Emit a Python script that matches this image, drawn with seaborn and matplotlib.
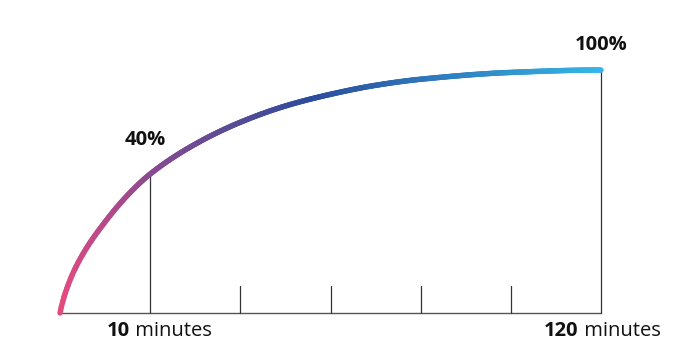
import numpy as np
import pandas as pd
import matplotlib
matplotlib.use("Agg")
import matplotlib.pyplot as plt
from matplotlib.collections import LineCollection
from matplotlib.colors import LinearSegmentedColormap
import seaborn as sns

# ---- data (x = tick position index, y = share of full height) ----
curve_x = [0.0, 0.1, 0.25, 0.5, 0.75, 1.0, 1.5, 2.0, 2.5, 3.0, 3.5, 4.0, 5.0, 6.0]
curve_y = [0.0, 0.125, 0.24, 0.375, 0.485, 0.572, 0.695, 0.785, 0.852, 0.9, 0.937, 0.962, 0.99, 1.0]
tick_positions = [1, 2, 3, 4, 5, 6]
marker_positions = [1, 6]
marker_values = [0.572, 1.0]
marker_labels = ["40%", "100%"]
axis_label_positions = [1, 6]
axis_label_numbers = ["10", "120"]
axis_label_unit = "minutes"

sns.set_theme(style="white")
plt.rcParams["font.family"] = ["Open Sans", "DejaVu Sans"]

fig = plt.figure(figsize=(6.9, 3.6), dpi=100)
ax = fig.add_axes([0, 0, 1, 1])
px_per_x = 90.17
px_per_y = 243.0
ax.set_xlim(-60 / px_per_x, (690 - 60) / px_per_x)
ax.set_ylim((313 - 360) / px_per_y, 313 / px_per_y)
ax.axis("off")

# smooth rendering of the read points with a monotone cubic (PCHIP)
df = pd.DataFrame({"x": curve_x, "y": curve_y})
x = df.x.to_numpy(); y = df.y.to_numpy()
xs = np.linspace(x.min(), x.max(), 400)
h = np.diff(x); d = np.diff(y) / h
m = np.zeros_like(y)
for k in range(1, len(x) - 1):
    if d[k - 1] * d[k] > 0:
        w1 = 2 * h[k] + h[k - 1]; w2 = h[k] + 2 * h[k - 1]
        m[k] = (w1 + w2) / (w1 / d[k - 1] + w2 / d[k])
m[0] = d[0] * 1.4
m[-1] = 0.0
idx = np.clip(np.searchsorted(x, xs) - 1, 0, len(x) - 2)
t = (xs - x[idx]) / h[idx]
h00 = 2 * t**3 - 3 * t**2 + 1; h10 = t**3 - 2 * t**2 + t
h01 = -2 * t**3 + 3 * t**2; h11 = t**3 - t**2
ys = h00 * y[idx] + h10 * h[idx] * m[idx] + h01 * y[idx + 1] + h11 * h[idx] * m[idx + 1]

cmap = LinearSegmentedColormap.from_list(
    "grad",
    [(0.0, "#e44a80"), (1 / 6, "#8a4a90"), (2.8 / 6, "#2b4c9c"), (1.0, "#33b6e7")],
)
pts = np.column_stack([xs, ys]).reshape(-1, 1, 2)
segs = np.concatenate([pts[:-1], pts[1:]], axis=1)
lc = LineCollection(segs, cmap=cmap, norm=plt.Normalize(0, 6), linewidths=3.9,
                    capstyle="round", joinstyle="round", zorder=3)
lc.set_array(0.5 * (xs[:-1] + xs[1:]))

# baseline
sns.lineplot(x=[0, 6], y=[0, 0], ax=ax, color="#555555", linewidth=1.0, zorder=1)
# small ticks
for p in tick_positions:
    if p not in marker_positions:
        ax.plot([p, p], [0, 27 / px_per_y], color="#333333", linewidth=0.9, zorder=1)
# vertical drop lines to the curve
for p, v in zip(marker_positions, marker_values):
    ax.plot([p, p], [0, v], color="#333333", linewidth=0.9, zorder=1)
ax.add_collection(lc)

# marker labels
label_offsets = [(-0.06, 34 / px_per_y), (0.0, 25 / px_per_y)]
for p, v, lab, (dx, dy) in zip(marker_positions, marker_values, marker_labels, label_offsets):
    ax.text(p + dx, v + dy, lab, ha="center", va="center", fontsize=14.5,
            fontweight="bold", color="#111111")

# axis labels: bold number + regular unit
fig.canvas.draw()
renderer = fig.canvas.get_renderer()
y_lab = -18 / px_per_y
left_offsets_px = [-43, -57]
for p, num, off in zip(axis_label_positions, axis_label_numbers, left_offsets_px):
    parts = [(num, "bold"), (" " + axis_label_unit, "normal")]
    cur = ax.transData.transform((p, 0))[0] + off
    for s, w in parts:
        xd = ax.transData.inverted().transform((cur, 0))[0]
        tt = ax.text(xd, y_lab, s, ha="left", va="center", fontsize=14.5, fontweight=w,
                     color="#111111")
        cur += tt.get_window_extent(renderer).width

fig.savefig("out.png", dpi=100, facecolor="white")
